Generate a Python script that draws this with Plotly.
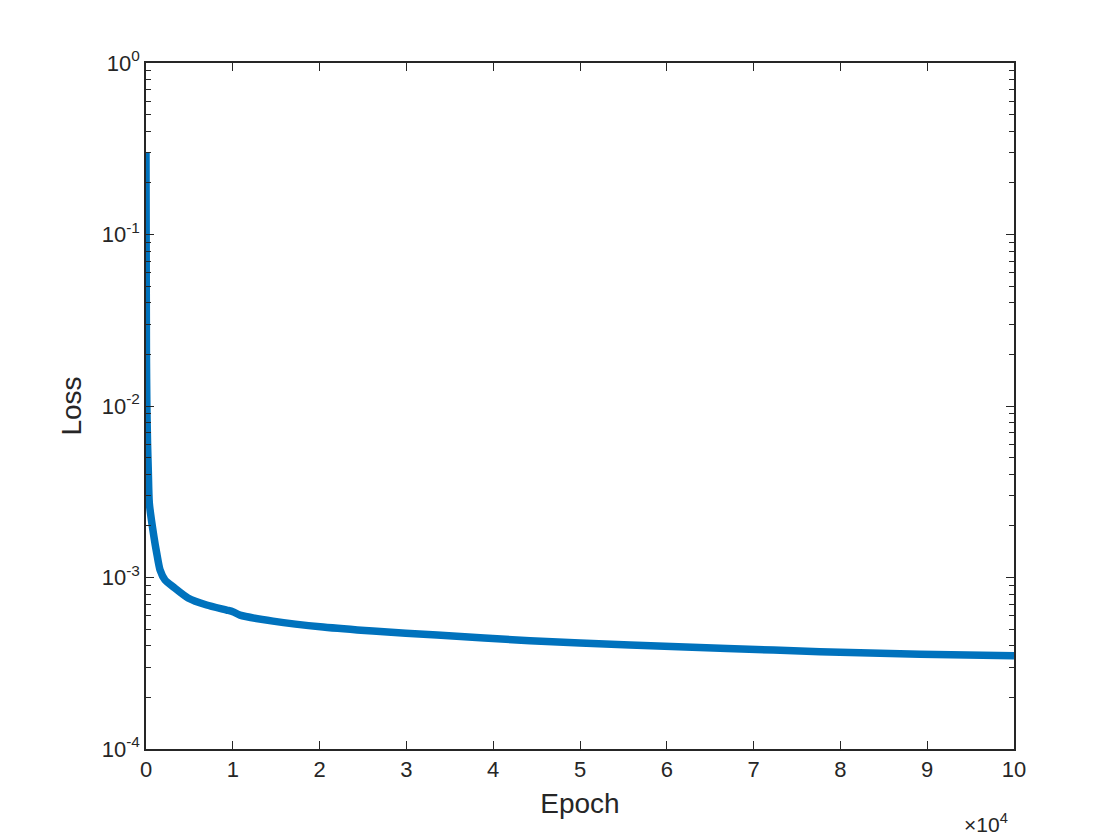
import plotly.graph_objects as go

# loss curve (epoch, loss)
epochs = [0, 20, 50, 100, 180, 265, 380, 920, 1230, 1610, 2190, 3150, 4840,
          6990, 9300, 10000, 10830, 14630, 20390, 26150, 33530, 44240, 55760,
          66940, 77650, 89170, 100000]
loss = [0.30, 0.1, 0.02, 0.01, 0.006, 0.0042, 0.00272, 0.00172, 0.00139, 0.00111,
        0.000967, 0.000881, 0.00076, 0.000691, 0.000646, 0.000632, 0.000603,
        0.000557, 0.000514, 0.000487, 0.000462, 0.000428, 0.000404, 0.000386,
        0.000369, 0.000357, 0.00035]

x_ticks = [0, 10000, 20000, 30000, 40000, 50000, 60000, 70000, 80000, 90000, 100000]
x_labels = ["0", "1", "2", "3", "4", "5", "6", "7", "8", "9", "10"]
y_ticks = [1e-4, 1e-3, 1e-2, 1e-1, 1]
y_labels = ["10<sup>-4</sup>", "10<sup>-3</sup>", "10<sup>-2</sup>", "10<sup>-1</sup>", "10<sup>0</sup>"]

ink = "#262626"
font = "Liberation Sans, Arial, Helvetica, sans-serif"

fig = go.Figure()
fig.add_trace(go.Scatter(x=epochs, y=loss, mode="lines",
                         line=dict(color="#0072BD", width=7.5, shape="spline", smoothing=0.6),
                         showlegend=False))

# page body adds 8px, so the figure is 8px smaller than the window
fig.update_layout(
    width=1112, height=832,
    margin=dict(l=138, r=106, t=55, b=91),
    paper_bgcolor="white", plot_bgcolor="white",
    font=dict(family=font, color=ink, size=21),
)
fig.update_xaxes(
    range=[0, 100000], tickvals=x_ticks, ticktext=x_labels,
    ticks="inside", ticklen=8, tickwidth=1.2, tickcolor=ink,
    showline=True, linecolor=ink, linewidth=1.5, mirror="ticks",
    showgrid=False, zeroline=False, automargin=False,
    tickfont=dict(size=22),
    title=dict(text="Epoch", font=dict(size=28), standoff=12),
)
fig.update_yaxes(
    type="log", range=[-4, 0], tickvals=y_ticks, ticktext=y_labels,
    ticks="inside", ticklen=8, tickwidth=1.2, tickcolor=ink,
    showline=True, linecolor=ink, linewidth=1.5, mirror="ticks",
    showgrid=False, zeroline=False, automargin=False,
    tickfont=dict(size=22),
    minor=dict(ticks="inside", ticklen=5, tickwidth=1, tickcolor=ink, dtick="D1", showgrid=False),
    title=dict(text="Loss", font=dict(size=28), standoff=12),
)
fig.add_annotation(text="\u00d710<sup>4</sup>", xref="paper", yref="paper",
                   x=0.968, y=-0.108, xanchor="center", yanchor="middle",
                   showarrow=False, font=dict(size=21, color=ink))

fig.write_html("out.html")
